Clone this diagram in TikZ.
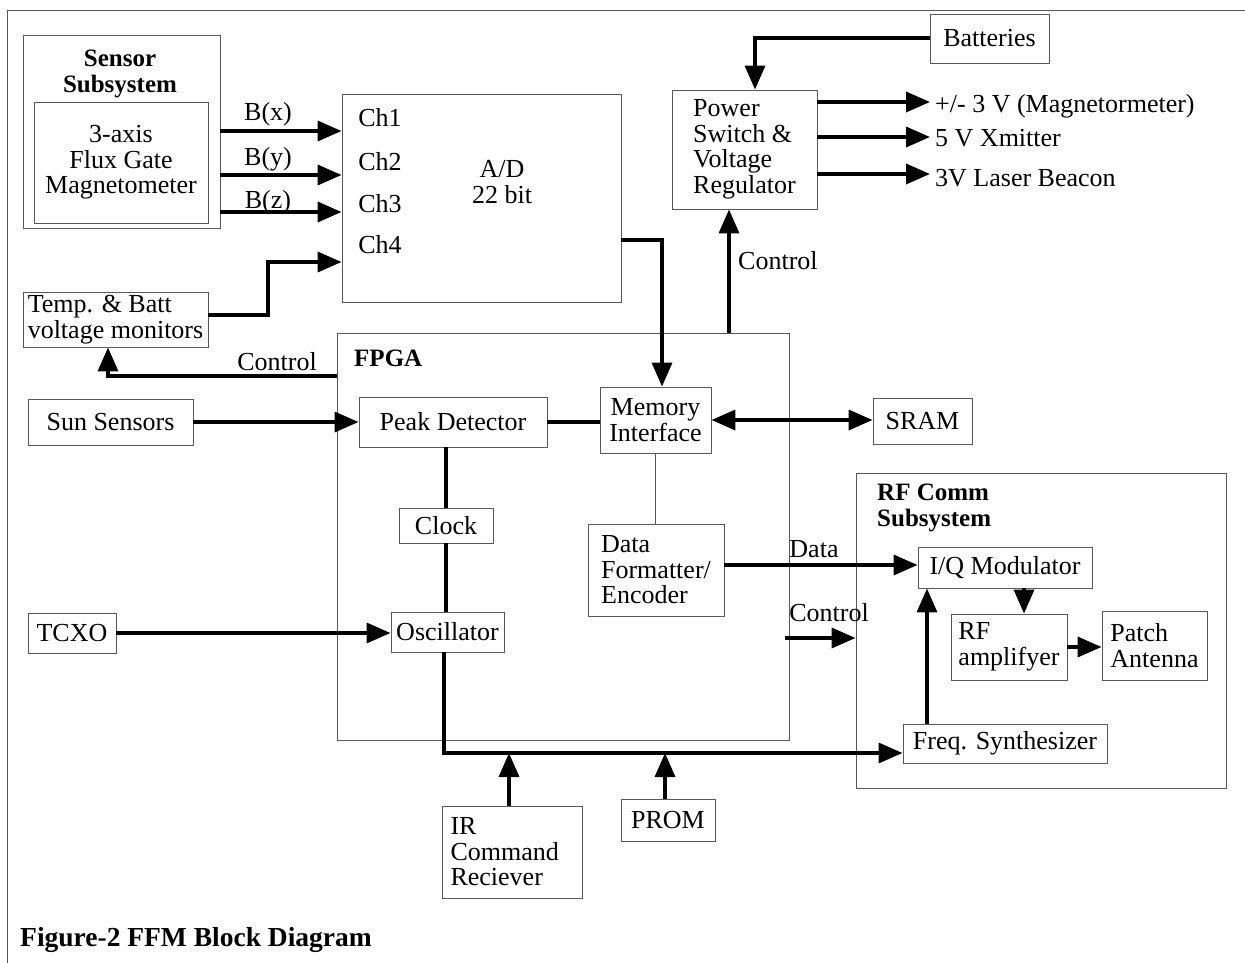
\documentclass[tikz,border=0pt]{standalone}
\usepackage{fontspec}
\setmainfont{Liberation Serif}
\usetikzlibrary{arrows.meta}
\newcommand\mkblk[7]{\node[blk, minimum width={(#4-#2)*1pt}, minimum height={(#5-#3)*1pt}, #6] (#1) at ({(#2+#4)/2},{(#3+#5)/2}) {#7};}
\tikzset{
  every node/.style={font=\fontsize{26}{25.5}\selectfont, inner sep=0pt, align=center},
  blk/.style={draw=black!65, line width=0.9pt, rectangle, align=center},
  arr/.style={line width=3.5pt, -{Triangle[length=24pt,width=20pt]}},
  darr/.style={line width=3.5pt, {Triangle[length=24pt,width=20pt]}-{Triangle[length=24pt,width=20pt]}},
  thk/.style={line width=3.5pt},
  thn/.style={draw=black!65, line width=0.9pt},
  ttl/.style={font=\fontsize{25}{25.5}\selectfont\bfseries, align=left}
}
\begin{document}
\begin{tikzpicture}[x=1pt,y=-1pt]
\useasboundingbox (0,0) rectangle (1245,963);
% outer frame (top and left)
\draw[thn] (7,963) -- (7,10) -- (1245,10);

% blocks
\mkblk{sensor}{23}{35}{220}{228}{}{}
\node[ttl, align=center] (sensorT) at (120,74) {Sensor\\Subsystem};
\mkblk{mag}{34}{102}{208}{223}{}{3-axis\\Flux Gate\\Magnetometer}
\mkblk{ad}{342}{94}{621}{302}{}{}
\node (ch1) at (380,118) {Ch1};
\node (ch2) at (380,162) {Ch2};
\node (ch3) at (380,204) {Ch3};
\node (ch4) at (380,245) {Ch4};
\node (adT) at (502,182) {A/D\\22 bit};
\mkblk{temp}{23}{292}{208}{347}{align=left}{Temp. \& Batt\\voltage monitors}
\mkblk{sun}{28}{399}{193}{445}{}{Sun Sensors}
\mkblk{tcxo}{28}{613}{116}{653}{}{TCXO}
\mkblk{fpga}{337}{333}{789}{740}{}{}
\node[ttl, anchor=west] (fpgaT) at (354,358) {FPGA};
\mkblk{peak}{359}{397}{547}{447}{}{Peak Detector}
\mkblk{mem}{600}{387}{711}{453}{}{Memory\\Interface}
\mkblk{clock}{399}{508}{493}{543}{}{Clock}
\mkblk{osc}{391}{612}{504}{652}{}{Oscillator}
\mkblk{data}{588}{524}{724}{616}{align=left}{Data\\Formatter/\\Encoder}
\mkblk{sram}{873}{398}{972}{444}{}{SRAM}
\mkblk{power}{672}{90}{817}{209}{align=left}{Power\\Switch \&\\Voltage\\Regulator}
\mkblk{bat}{930}{14}{1049}{63}{}{Batteries}
\mkblk{rf}{856}{473}{1226}{788}{}{}
\node[ttl, anchor=west] (rfT) at (877,508) {RF Comm\\Subsystem};
\mkblk{iq}{918}{547}{1092}{588}{}{I/Q Modulator}
\mkblk{rfamp}{951}{614}{1067}{680}{align=left}{RF\\amplifyer}
\mkblk{patch}{1102}{611}{1207}{680}{align=left}{Patch\\Antenna}
\mkblk{freq}{903}{724}{1107}{763}{}{Freq. Synthesizer}
\mkblk{ir}{443}{806}{582}{898}{align=left, text width=124pt, inner xsep=8pt}{IR\\Command\\Reciever}
\mkblk{prom}{621}{799}{715}{841}{}{PROM}

% sensor -> A/D
\draw[arr] (sensor.east |- 0,131) -- (ad.west |- 0,131);
\draw[arr] (sensor.east |- 0,175) -- (ad.west |- 0,175);
\draw[arr] (sensor.east |- 0,212) -- (ad.west |- 0,212);
\node (bx) at (268,114) {B(x)};
\node (by) at (268,159) {B(y)};
\node (bz) at (268,202) {B(z)};
% temp -> Ch4
\coordinate (t1) at (268,315);
\coordinate (t2) at (268,262);
\draw[arr] (temp.east |- t1) -- (t1) -- (t2) -- (ad.west |- t2);
% FPGA control -> temp
\coordinate (c1) at (108,376);
\draw[arr] (fpga.west |- c1) -- (c1) -- (temp.south -| c1);
\node (ctl1) at (277,362) {Control};
% sun, tcxo
\draw[arr] (sun.east) -- (peak.west |- sun.east);
\draw[arr] (tcxo.east) -- (osc.west |- tcxo.east);
% peak - mem, mem <-> sram
\draw[thk] (peak.east) -- (mem.west |- peak.east);
\draw[darr] (mem.east) -- (sram.west |- mem.east);
\draw[thn] (mem.south) -- (data.north -| mem.south);
% peak - clock - osc
\coordinate (vx) at (446,0);
\draw[thk] (vx |- peak.south) -- (vx |- clock.north);
\draw[thk] (vx |- clock.south) -- (vx |- osc.north);
% A/D -> memory
\coordinate (a1) at (662,240);
\draw[thk, -{Triangle[length=24pt,width=20pt]}] (ad.east |- a1) -- (a1) -- (a1 |- mem.north);
% control -> power
\coordinate (p1) at (729,0);
\draw[arr] (p1 |- fpga.north) -- (p1 |- power.south);
\node[anchor=west] (ctl2) at (738,261) {Control};
% batteries -> power
\coordinate (b1) at (755,38);
\draw[arr] (bat.west |- b1) -- (b1) -- (b1 |- power.north);
% power outputs
\coordinate (o1) at (930,102);
\coordinate (o2) at (930,137);
\coordinate (o3) at (930,174);
\draw[arr] (power.east |- o1) -- (o1);
\draw[arr] (power.east |- o2) -- (o2);
\draw[arr] (power.east |- o3) -- (o3);
\node[anchor=west] (v1) at (935,106) {+/- 3 V (Magnetormeter)};
\node[anchor=west] (v2) at (935,138) {5 V Xmitter};
\node[anchor=west] (v3) at (935,178) {3V Laser Beacon};
% data -> IQ
\coordinate (d1) at (724,565);
\draw[arr] (d1) -- (iq.west |- d1);
\node (dataL) at (814,549) {Data};
% control -> RF
\coordinate (r1) at (785,638);
\draw[arr] (r1) -- (rf.west |- r1);
\node (ctl3) at (829,613) {Control};
% RF internals
\coordinate (q1) at (1024,0);
\draw[arr] (q1 |- iq.south) -- (q1 |- rfamp.north);
\draw[arr] (rfamp.east) -- (patch.west |- rfamp.east);
\coordinate (f1) at (927,0);
\draw[arr] (f1 |- freq.north) -- (f1 |- iq.south);
% oscillator bus -> freq synth
\coordinate (bus) at (444,753);
\draw[thk, -{Triangle[length=24pt,width=20pt]}] (osc.south -| bus) -- (bus) -- (freq.west |- bus);
\coordinate (i1) at (509,753);
\coordinate (m1) at (665,753);
\draw[arr] (i1 |- ir.north) -- (i1);
\draw[arr] (m1 |- prom.north) -- (m1);
% caption
\node[anchor=west, font=\fontsize{27.5}{28}\selectfont\bfseries] (cap) at (20,940) {Figure-2 FFM Block Diagram};
\end{tikzpicture}
\end{document}
